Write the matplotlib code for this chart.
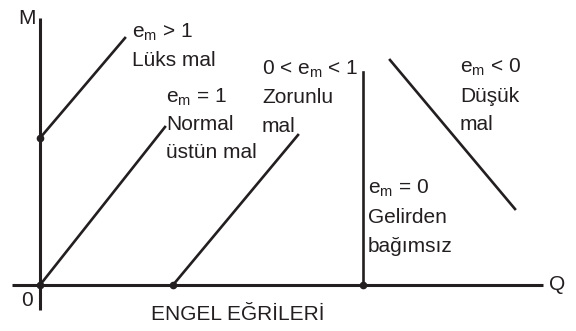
import matplotlib.pyplot as plt

plt.rcParams['font.family'] = ['Liberation Sans', 'DejaVu Sans']
plt.rcParams['mathtext.fontset'] = 'custom'
plt.rcParams['mathtext.rm'] = 'Liberation Sans'
plt.rcParams['mathtext.it'] = 'Liberation Sans'

# Engel curves: (Q, M) endpoints of each segment
luks_q = [0, 85]
luks_m = [147, 247]
normal_q = [0, 125]
normal_m = [0, 158]
zorunlu_q = [133, 258]
zorunlu_m = [0, 150]
bagimsiz_q = [323, 323]
bagimsiz_m = [0, 213]
dusuk_q = [350, 475]
dusuk_m = [225, 76]

# starting points marked with dots
dot_q = [0, 0, 133, 323]
dot_m = [147, 0, 0, 0]

# curve labels: (q, lines, m of first line, line step)
labels = [
    (92, [r'e$_{\rm m}$ > 1', 'Lüks mal'], 253, 28),
    (126, [r'e$_{\rm m}$ = 1', 'Normal', 'üstün mal'], 188, 28),
    (222, [r'0 < e$_{\rm m}$ < 1', 'Zorunlu', 'mal'], 216, 28.5),
    (420, [r'e$_{\rm m}$ < 0', 'Düşük', 'mal'], 218, 29),
    (328, [r'e$_{\rm m}$ = 0', 'Gelirden', 'bağımsız'], 97, 29.5),
]

fig = plt.figure(figsize=(5.76, 3.31), dpi=100)
ax = fig.add_axes([0, 0, 1, 1])
ax.set_xlim(-40, 536)
ax.set_ylim(-46, 285)
ax.axis('off')

# axes
ax.plot([0, 0], [-25, 267], color='#231f20', lw=2.2, solid_capstyle='butt')
ax.plot([-28, 503], [0, 0], color='#231f20', lw=2.2, solid_capstyle='butt')

for q, m in [(luks_q, luks_m), (normal_q, normal_m), (zorunlu_q, zorunlu_m),
             (bagimsiz_q, bagimsiz_m), (dusuk_q, dusuk_m)]:
    ax.plot(q, m, color='#231f20', lw=1.9)

ax.plot(dot_q, dot_m, 'o', color='#231f20', ms=4.5, ls='none')

ax.text(-13, 267, 'M', fontsize=15, ha='center', va='center', color='#231f20')
ax.text(-13, -15, '0', fontsize=15, ha='center', va='center', color='#231f20')
ax.text(517, 0, 'Q', fontsize=15, ha='center', va='center', color='#231f20')
ax.text(198, -30, 'ENGEL EĞRİLERİ', fontsize=15, ha='center', va='center',
        color='#231f20')

for q, lines, m, step in labels:
    for i, s in enumerate(lines):
        ax.text(q, m - i * step, s, fontsize=15, ha='left', va='center',
                color='#231f20')

fig.savefig('out.png', dpi=100)
